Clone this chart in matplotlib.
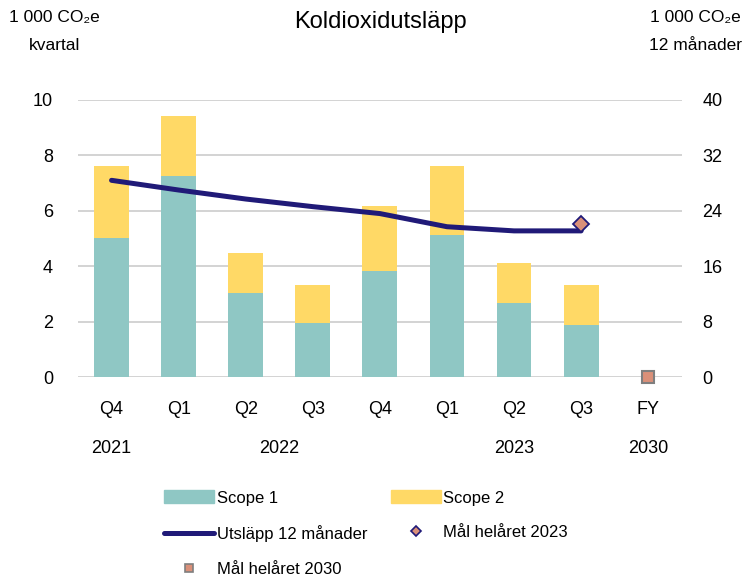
import numpy as np
import matplotlib.pyplot as plt
from matplotlib.lines import Line2D
from matplotlib.patches import Patch

# data
quarters = ["Q4", "Q1", "Q2", "Q3", "Q4", "Q1", "Q2", "Q3", "FY"]
years = ["2021", "2022", "2023", "2030"]
year_pos = [0, 2.5, 6, 8]
scope1 = [5.0, 7.25, 3.03, 1.95, 3.83, 5.13, 2.67, 1.88]
scope2 = [2.6, 2.17, 1.45, 1.37, 2.34, 2.47, 1.45, 1.44]
rolling_12m = [28.4, 27.0, 25.7, 24.6, 23.6, 21.7, 21.1, 21.1]
target_2023 = 22.1
target_2030 = 0.0

teal = "#8FC7C4"
yellow = "#FFD966"
navy = "#201A78"
salmon = "#DA9079"

plt.rcParams["font.family"] = ["Liberation Sans", "DejaVu Sans"]

fig = plt.figure(figsize=(7.5, 5.8), dpi=100)
ax = fig.add_axes([0.104, 0.35, 0.805, 0.4776])
ax2 = ax.twinx()

x = np.arange(len(scope1))
ax.bar(x, scope1, width=0.52, color=teal, zorder=2)
ax.bar(x, scope2, width=0.52, bottom=scope1, color=yellow, zorder=2)

ax2.plot(x, rolling_12m, color=navy, lw=3.6, solid_capstyle="round", solid_joinstyle="round", zorder=3)
ax2.plot([7], [target_2023], marker="D", ms=8, mfc=salmon, mec=navy, mew=1.3, ls="none", zorder=4)
ax2.plot([8], [target_2030], marker="s", ms=9, mfc=salmon, mec="#7F7F7F", mew=1.5, ls="none", zorder=4, clip_on=False)

ax.set_xlim(-0.5, 8.5)
ax.set_ylim(0, 10)
ax2.set_ylim(0, 40)
ax.set_yticks(np.arange(0, 11, 2))
ax2.set_yticks(np.arange(0, 41, 8))
ax.grid(axis="y", color="#D0D0D0", lw=1.3, zorder=0)
ax.set_axisbelow(True)
for a in (ax, ax2):
    for s in a.spines.values():
        s.set_visible(False)
ax.tick_params(axis="y", length=0, labelsize=13, pad=18)
ax2.tick_params(axis="y", length=0, labelsize=13, pad=15)
ax.set_xticks(np.arange(len(quarters)))
ax.set_xticklabels(quarters)
ax.tick_params(axis="x", length=0, labelsize=13, pad=17)

for pos, yr in zip(year_pos, years):
    ax.text(pos, -0.258, yr, transform=ax.get_xaxis_transform(), ha="center", va="center", fontsize=13)

fig.text(0.507, 0.962, "Koldioxidutsläpp", ha="center", va="center", fontsize=17)
fig.text(0.073, 0.97, "1 000 CO₂e", ha="center", va="center", fontsize=12.5)
fig.text(0.073, 0.922, "kvartal", ha="center", va="center", fontsize=12.5)
fig.text(0.927, 0.97, "1 000 CO₂e", ha="center", va="center", fontsize=12.5)
fig.text(0.927, 0.922, "12 månader", ha="center", va="center", fontsize=12.5)

handles = [
    Patch(color=teal, label="Scope 1"),
    Line2D([], [], color=navy, lw=3.6, solid_capstyle="round", label="Utsläpp 12 månader"),
    Line2D([], [], marker="s", ms=6, mfc=salmon, mec="#7F7F7F", mew=1.2, ls="none", label="Mål helåret 2030"),
    Patch(color=yellow, label="Scope 2"),
    Line2D([], [], marker="D", ms=5, mfc=salmon, mec=navy, mew=1.2, ls="none", label="Mål helåret 2023"),
]
fig.legend(handles=handles, ncol=2, loc="upper left", bbox_to_anchor=(0.21, 0.166),
           frameon=False, fontsize=12, handlelength=3.0, handleheight=0.8,
           columnspacing=1.4, labelspacing=1.18, handletextpad=0.15, borderaxespad=0)

fig.savefig("out.png", dpi=100)
